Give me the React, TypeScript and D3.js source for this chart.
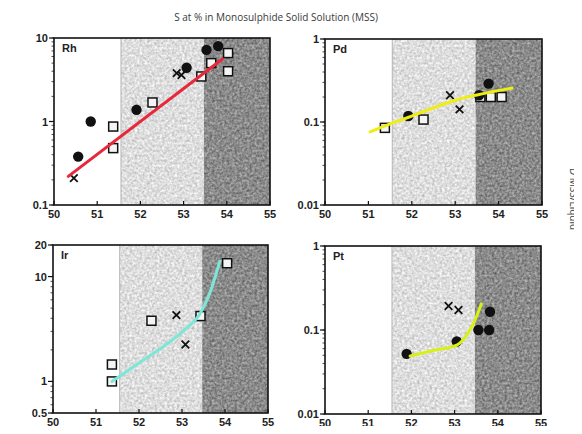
import React, { useRef, useEffect } from "react";
import * as d3 from "d3";

const W = 582;
const H = 434;

type Pt = [number, number];

const xTicks = [50, 51, 52, 53, 54, 55];
const lightZone = [51.55, 53.47];
const darkZone = [53.47, 55];

// Rh
const rhCircles: Pt[] = [[50.56, 0.38], [50.85, 1.0], [51.91, 1.38], [53.07, 4.4], [53.53, 7.2], [53.8, 8.0]];
const rhSquares: Pt[] = [[51.37, 0.87], [51.37, 0.48], [52.28, 1.69], [53.41, 3.46], [53.64, 5.0], [54.03, 6.6], [54.03, 4.0]];
const rhCrosses: Pt[] = [[50.46, 0.21], [52.84, 3.8], [52.95, 3.6]];
const rhTrend: Pt[] = [[50.33, 0.22], [53.9, 5.6]];

// Pd
const pdCircles: Pt[] = [[51.92, 0.118], [53.55, 0.21], [53.77, 0.29]];
const pdSquares: Pt[] = [[51.38, 0.085], [52.27, 0.107], [53.58, 0.2], [53.82, 0.2], [54.07, 0.2]];
const pdCrosses: Pt[] = [[52.88, 0.21], [53.1, 0.142]];
const pdTrend: Pt[] = [[51.04, 0.076], [51.5, 0.095], [52.0, 0.118], [52.5, 0.148], [53.0, 0.183], [53.5, 0.212], [54.31, 0.256]];

// Ir
const irSquares: Pt[] = [[51.37, 1.0], [51.37, 1.45], [52.29, 3.79], [53.43, 4.2], [54.05, 13.4]];
const irCrosses: Pt[] = [[52.87, 4.29], [53.08, 2.25]];
const irTrend: Pt[] = [[51.37, 1.0], [52.0, 1.5], [52.6, 2.2], [53.1, 3.2], [53.4, 4.3], [53.65, 7], [53.88, 14]];

// Pt
const ptCircles: Pt[] = [[51.89, 0.052], [53.05, 0.073], [53.55, 0.1], [53.8, 0.1], [53.82, 0.165]];
const ptCrosses: Pt[] = [[52.86, 0.193], [53.09, 0.173]];
const ptTrend: Pt[] = [[51.97, 0.049], [52.5, 0.057], [53.05, 0.066], [53.25, 0.083], [53.4, 0.11], [53.52, 0.15], [53.62, 0.205]];

const panels = [
  { name: "Rh", x: 54, y: 38, w: 216, h: 167, yDomain: [0.1, 10], yTicks: [0.1, 1, 10], yLabels: ["0.1", "1", "10"],
    circles: rhCircles, squares: rhSquares, crosses: rhCrosses, trend: rhTrend, color: "#e8283a", curve: d3.curveLinear },
  { name: "Pd", x: 325, y: 39, w: 217, h: 166, yDomain: [0.01, 1], yTicks: [0.01, 0.1, 1], yLabels: ["0.01", "0.1", "1"],
    circles: pdCircles, squares: pdSquares, crosses: pdCrosses, trend: pdTrend, color: "#eeee10", curve: d3.curveMonotoneX },
  { name: "Ir", x: 53, y: 245, w: 215, h: 168, yDomain: [0.5, 20], yTicks: [0.5, 1, 10, 20], yLabels: ["0.5", "1", "10", "20"],
    circles: [] as Pt[], squares: irSquares, crosses: irCrosses, trend: irTrend, color: "#7ee6d6", curve: d3.curveMonotoneX },
  { name: "Pt", x: 325, y: 246, w: 216, h: 168, yDomain: [0.01, 1], yTicks: [0.01, 0.1, 1], yLabels: ["0.01", "0.1", "1"],
    circles: ptCircles, squares: [] as Pt[], crosses: ptCrosses, trend: ptTrend, color: "#d8f018", curve: d3.curveMonotoneX },
];

const tickFont = "'Liberation Sans Narrow', 'Arial Narrow', Arial, sans-serif";

export default function App() {
  const ref = useRef<SVGSVGElement | null>(null);

  useEffect(() => {
    const svg = d3.select(ref.current);
    svg.selectAll("*").remove();

    const defs = svg.append("defs");
    const noise = (id: string, slope: number, icept: number, seed: number) => {
      const f = defs.append("filter").attr("id", id).attr("x", 0).attr("y", 0)
        .attr("width", "100%").attr("height", "100%")
        .attr("color-interpolation-filters", "sRGB");
      f.append("feTurbulence").attr("type", "fractalNoise").attr("baseFrequency", 0.4)
        .attr("numOctaves", 2).attr("seed", seed).attr("result", "n");
      f.append("feColorMatrix").attr("in", "n").attr("type", "saturate").attr("values", 0).attr("result", "g");
      const ct = f.append("feComponentTransfer").attr("in", "g").attr("result", "c");
      ["feFuncR", "feFuncG", "feFuncB"].forEach((k) =>
        ct.append(k).attr("type", "linear").attr("slope", slope).attr("intercept", icept));
      ct.append("feFuncA").attr("type", "linear").attr("slope", 0).attr("intercept", 1);
      f.append("feComposite").attr("in", "c").attr("in2", "SourceGraphic").attr("operator", "in");
    };
    noise("lightNoise", 0.5, 0.62, 4);
    noise("darkNoise", 0.65, 0.22, 9);

    svg.append("rect").attr("width", W).attr("height", H).attr("fill", "#fff");

    svg.append("text").attr("x", 276).attr("y", 21).attr("text-anchor", "middle")
      .attr("font-family", "'Open Sans', sans-serif").attr("font-size", 10).attr("fill", "#3a3a3a")
      .text("S at % in Monosulphide Solid Solution (MSS)");

    svg.append("text").attr("transform", "translate(570,168) rotate(90)")
      .attr("font-family", "'Open Sans', sans-serif").attr("font-size", 10).attr("fill", "#444")
      .text("D MSS/Liquid");

    panels.forEach((p) => {
      const x = d3.scaleLinear().domain([50, 55]).range([p.x, p.x + p.w]);
      const y = d3.scaleLog().domain(p.yDomain).range([p.y + p.h, p.y]);
      const g = svg.append("g");

      g.append("rect").attr("x", x(lightZone[0])).attr("y", p.y)
        .attr("width", x(lightZone[1]) - x(lightZone[0])).attr("height", p.h)
        .attr("fill", "#ddd").attr("filter", "url(#lightNoise)");
      g.append("rect").attr("x", x(darkZone[0])).attr("y", p.y)
        .attr("width", x(darkZone[1]) - x(darkZone[0])).attr("height", p.h)
        .attr("fill", "#888").attr("filter", "url(#darkNoise)");
      g.append("line").attr("x1", x(lightZone[0])).attr("x2", x(lightZone[0]))
        .attr("y1", p.y).attr("y2", p.y + p.h).attr("stroke", "#aaa").attr("stroke-width", 0.8);

      // minor ticks on log axis
      const minors: number[] = [];
      const [lo, hi] = p.yDomain;
      for (let e = Math.floor(Math.log10(lo)); e <= Math.ceil(Math.log10(hi)); e++) {
        for (let m = 1; m <= 9; m++) {
          const v = m * Math.pow(10, e);
          if (v >= lo && v <= hi) minors.push(v);
        }
      }
      g.selectAll(".mn").data(minors).enter().append("line")
        .attr("x1", p.x - 2.5).attr("x2", p.x).attr("y1", (d) => y(d)).attr("y2", (d) => y(d))
        .attr("stroke", "#222").attr("stroke-width", 0.8);
      g.selectAll(".mj").data(p.yTicks).enter().append("line")
        .attr("x1", p.x - 5).attr("x2", p.x).attr("y1", (d) => y(d)).attr("y2", (d) => y(d))
        .attr("stroke", "#111").attr("stroke-width", 1.2);
      g.selectAll(".yl").data(p.yTicks).enter().append("text")
        .attr("x", p.x - 6).attr("y", (d) => y(d) + 4).attr("text-anchor", "end")
        .attr("font-family", tickFont).attr("font-weight", "bold").attr("font-size", 11).attr("fill", "#222")
        .text((_, i) => p.yLabels[i]);

      g.selectAll(".xt").data(xTicks).enter().append("line")
        .attr("x1", (d) => x(d)).attr("x2", (d) => x(d)).attr("y1", p.y + p.h).attr("y2", p.y + p.h - 4)
        .attr("stroke", "#111").attr("stroke-width", 1.2);
      g.selectAll(".xl").data(xTicks).enter().append("text")
        .attr("x", (d) => x(d)).attr("y", p.y + p.h + 13).attr("text-anchor", "middle")
        .attr("font-family", tickFont).attr("font-weight", "bold").attr("font-size", 11).attr("fill", "#222")
        .text((d) => String(d));

      g.append("rect").attr("x", p.x).attr("y", p.y).attr("width", p.w).attr("height", p.h)
        .attr("fill", "none").attr("stroke", "#111").attr("stroke-width", 1.6);

      g.append("text").attr("x", p.x + 8).attr("y", p.y + 14)
        .attr("font-family", "Arial, sans-serif").attr("font-weight", "bold").attr("font-size", 11)
        .attr("fill", "#222").text(p.name);

      g.selectAll(".sq").data(p.squares).enter().append("rect")
        .attr("x", (d) => x(d[0]) - 4.5).attr("y", (d) => y(d[1]) - 4.5)
        .attr("width", 9).attr("height", 9)
        .attr("fill", "#f4f4f4").attr("stroke", "#111").attr("stroke-width", 1.5);
      g.selectAll(".ci").data(p.circles).enter().append("circle")
        .attr("cx", (d) => x(d[0])).attr("cy", (d) => y(d[1])).attr("r", 5.2).attr("fill", "#111");
      const cr = 3.8;
      g.selectAll(".cr").data(p.crosses).enter().append("path")
        .attr("d", (d) => {
          const cx = x(d[0]), cy = y(d[1]);
          return `M${cx - cr},${cy - cr}L${cx + cr},${cy + cr}M${cx - cr},${cy + cr}L${cx + cr},${cy - cr}`;
        })
        .attr("stroke", "#111").attr("stroke-width", 1.8).attr("fill", "none");

      const line = d3.line<Pt>().x((d) => x(d[0])).y((d) => y(d[1])).curve(p.curve);
      g.append("path").datum(p.trend).attr("d", line)
        .attr("fill", "none").attr("stroke", p.color).attr("stroke-width", 3)
        .attr("stroke-linecap", "round");
    });
  }, []);

  return (
    <div style={{ margin: -8 }}>
      <svg ref={ref} width={W} height={H} style={{ display: "block" }} />
    </div>
  );
}
